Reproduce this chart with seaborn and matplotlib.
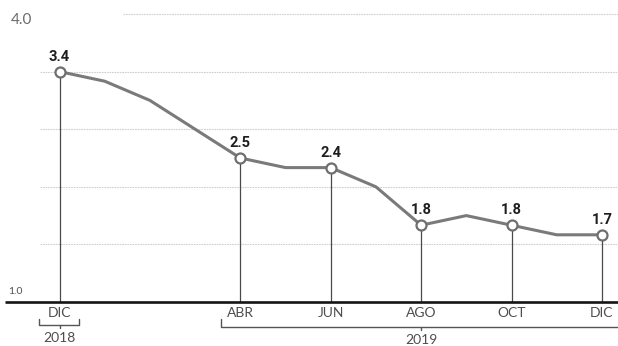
import matplotlib
matplotlib.use("Agg")
import matplotlib.pyplot as plt
import seaborn as sns
import pandas as pd
import numpy as np

# ---- data ----
months = ["DIC", "ENE", "FEB", "MAR", "ABR", "MAY", "JUN", "JUL", "AGO", "SEP", "OCT", "NOV", "DIC"]
values = [3.4, 3.3, 3.1, 2.8, 2.5, 2.4, 2.4, 2.2, 1.8, 1.9, 1.8, 1.7, 1.7]
labeled_idx = [0, 4, 6, 8, 10, 12]
y_tick_labels = ["1.0", "4.0"]
grid_values = [1.6, 2.2, 2.8, 3.4, 4.0]
years = ["2018", "2019"]

sns.set_theme(style="white")
plt.rcParams["font.family"] = ["Lato", "DejaVu Sans"]

df = pd.DataFrame({"m": np.arange(len(months)), "v": values, "label": months})
dl = df.iloc[labeled_idx]

W, H = 618, 346
fig = plt.figure(figsize=(W / 100, H / 100), dpi=100)
ax = fig.add_axes([0, 0, 1, 1])

# pixel mapping (layout only)
X0, DX = 59.5, 45.2     # px of first month, px per month
Y1, DY = 302.0, 96.0    # px (from top) of value 1.0, px per unit
def px2x(px):
    return (px - X0) / DX
def px2y(py):
    return 1.0 + (Y1 - py) / DY

# grid lines
for g in grid_values:
    start = px2x(123) if g == 4.0 else px2x(40)
    ax.plot([start, px2x(W)], [g, g], color="#cfcfcf", lw=0.8, ls=(0, (1.5, 0.8)), zorder=1)

# baseline
ax.plot([px2x(5), px2x(W)], [1.0, 1.0], color="#151515", lw=1.9, zorder=3, solid_capstyle="butt")

# vertical drop lines
for _, r in dl.iterrows():
    ax.plot([r.m, r.m], [1.0, r.v], color="#4a4a4a", lw=0.9, zorder=2)

# main line
sns.lineplot(data=df, x="m", y="v", ax=ax, color="#7a7a7a", lw=2.2, zorder=4, legend=False)
sns.scatterplot(data=dl, x="m", y="v", ax=ax, s=52, color="white", edgecolor="#6e6e6e",
                linewidth=1.6, zorder=5, legend=False)
ax.set_xlim(px2x(0), px2x(W))
ax.set_ylim(px2y(H), px2y(0))
ax.axis("off")

# value labels
for _, r in dl.iterrows():
    ax.text(r.m, r.v + 15 / DY, f"{r.v:.1f}", ha="center", va="center", fontsize=10.5,
            fontweight="bold", color="#1e1e1e", family=["Roboto", "DejaVu Sans"])

txt = "#4d4d4d"
# month labels
for _, r in dl.iterrows():
    ax.text(r.m, px2y(313), r.label, ha="center", va="center", fontsize=10,
            fontweight="normal", color=txt)

# y labels
ax.text(px2x(21), px2y(20), y_tick_labels[1], ha="center", va="center", fontsize=11,
        fontweight="normal", color="#6a6a6a")
ax.text(px2x(15), px2y(291), y_tick_labels[0], ha="center", va="center", fontsize=7.5,
        fontweight="normal", color=txt)

# year brackets
bc = "#555555"
ax.plot([px2x(39), px2x(39), px2x(79), px2x(79)], [px2y(319), px2y(325), px2y(325), px2y(319)],
        color=bc, lw=1.0)
ax.plot([0, 0], [px2y(325), px2y(328)], color=bc, lw=1.0)
ax.text(0, px2y(338), years[0], ha="center", va="center", fontsize=10, color=txt)

ax.plot([px2x(221), px2x(221), px2x(W)], [px2y(319), px2y(327), px2y(327)], color=bc, lw=1.0)
ax.plot([8, 8], [px2y(327), px2y(330)], color=bc, lw=1.0)
ax.text(8, px2y(340), years[1], ha="center", va="center", fontsize=10, color=txt)

fig.savefig("out.png", dpi=100)
